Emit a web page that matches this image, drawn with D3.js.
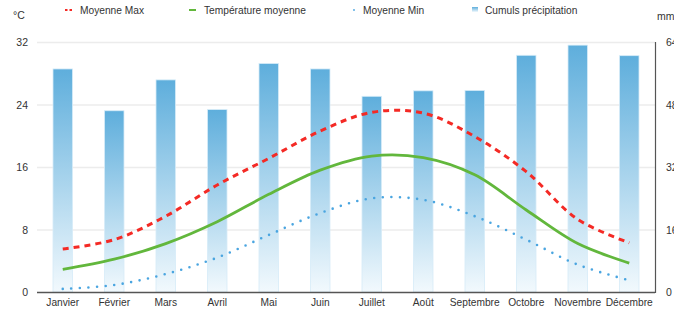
<!DOCTYPE html>
<html><head><meta charset="utf-8">
<script src="https://cdn.jsdelivr.net/npm/d3@7/dist/d3.min.js"></script>
<style>body{margin:0;background:#fff}svg{display:block;font-family:"Liberation Sans",Arial,Helvetica,sans-serif}</style>
</head><body><svg id="c" width="674" height="311"></svg>
<script>
const months = ["Janvier","Février","Mars","Avril","Mai","Juin","Juillet","Août","Septembre","Octobre","Novembre","Décembre"];
const precip = [57.1,46.4,54.3,46.7,58.5,57.1,50.1,51.5,51.6,60.6,63.2,60.5];
const tMax = [5.5,6.7,9.7,13.7,17.1,20.6,23.0,22.9,19.9,15.4,9.3,6.3];
const tMean = [2.9,4.2,6.2,9.0,12.5,15.6,17.4,17.2,15.0,10.5,6.2,3.7];
const tMin = [0.4,0.9,2.3,4.4,7.3,10.1,12.0,11.8,9.7,6.7,3.5,1.5];
const leftTicks = [0,8,16,24,32];
const rightTicks = [0,16,32,48,64];

const svg = d3.select("#c");
const L = 37, R = 655, T = 42, B = 292;
const x = d3.scaleBand().domain(months).range([L, R]);
const yT = d3.scaleLinear().domain([0,32]).range([B, T]);
const yP = d3.scaleLinear().domain([0,64]).range([B, T]);

const defs = svg.append("defs");
const g = defs.append("linearGradient").attr("id","bg").attr("x1",0).attr("y1",0).attr("x2",0).attr("y2",1);
g.append("stop").attr("offset","0%").attr("stop-color","#5eaedc");
g.append("stop").attr("offset","100%").attr("stop-color","#f2f9fd");

// grid
svg.append("g").selectAll("line").data(leftTicks.filter(d=>d>0)).join("line")
  .attr("x1",L).attr("x2",R).attr("y1",d=>yT(d)+0.5).attr("y2",d=>yT(d)+0.5)
  .attr("stroke","#ececec").attr("stroke-width",1.5);

// bars
const bw = 19.5;
svg.append("g").selectAll("rect").data(precip).join("rect")
  .attr("x",(d,i)=>x(months[i])+x.bandwidth()/2-bw/2)
  .attr("y",d=>yP(d)).attr("width",bw).attr("height",d=>B-yP(d))
  .attr("fill","url(#bg)").attr("stroke","#d6ecf8").attr("stroke-width",0.8);

// axes lines
svg.append("line").attr("x1",L).attr("x2",R).attr("y1",B+0.5).attr("y2",B+0.5).attr("stroke","#555").attr("stroke-width",1.5);
svg.append("line").attr("x1",R+0.5).attr("x2",R+0.5).attr("y1",T).attr("y2",B+1).attr("stroke","#555").attr("stroke-width",1.2);

const cx = (d,i)=>x(months[i])+x.bandwidth()/2;
const line = ys => d3.line().x(cx).y(d=>ys(d)).curve(d3.curveCatmullRom.alpha(0.5));

svg.append("path").datum(tMean).attr("d",line(yT)).attr("fill","none")
  .attr("stroke","#62b73c").attr("stroke-width",2.8);
svg.append("path").datum(tMax).attr("d",line(yT)).attr("fill","none")
  .attr("stroke","#f42a25").attr("stroke-width",3).attr("stroke-dasharray","6,5");
svg.append("path").datum(tMin).attr("d",line(yT)).attr("fill","none")
  .attr("stroke","#4aa5e0").attr("stroke-width",2.6).attr("stroke-linecap","round").attr("stroke-dasharray","0,8.6");

// tick labels
svg.append("g").selectAll("text").data(leftTicks).join("text")
  .attr("x",28).attr("y",d=>yT(d)+4).attr("text-anchor","end").attr("font-size",10.5).attr("fill","#333").text(d=>d);
svg.append("g").selectAll("text").data(rightTicks).join("text")
  .attr("x",666).attr("y",d=>yP(d)+4).attr("text-anchor","start").attr("font-size",10.5).attr("fill","#333").text(d=>d);
svg.append("g").selectAll("text").data(months).join("text")
  .attr("x",(d,i)=>cx(d,i)).attr("y",306).attr("text-anchor","middle").attr("font-size",10.2).attr("fill","#333").text(d=>d);
svg.append("text").attr("x",13).attr("y",19).attr("font-size",10.5).attr("fill","#333").text("°C");
svg.append("text").attr("x",657).attr("y",20).attr("font-size",10.5).attr("fill","#333").text("mm");

// legend
const lg = svg.append("g").attr("font-size",10.2).attr("fill","#333");
lg.append("line").attr("x1",65).attr("x2",74).attr("y1",10).attr("y2",10).attr("stroke","#f42a25").attr("stroke-width",2).attr("stroke-dasharray","2.5,2");
lg.append("text").attr("x",80).attr("y",14).text("Moyenne Max");
lg.append("line").attr("x1",189).attr("x2",196).attr("y1",10).attr("y2",10).attr("stroke","#62b73c").attr("stroke-width",2);
lg.append("text").attr("x",204).attr("y",14).text("Température moyenne");
lg.append("circle").attr("cx",354).attr("cy",10).attr("r",0.9).attr("fill","#4aa5e0");
lg.append("text").attr("x",363).attr("y",14).text("Moyenne Min");
lg.append("rect").attr("x",472).attr("y",7).attr("width",6).attr("height",5).attr("fill","url(#bg)");
lg.append("text").attr("x",485).attr("y",14).text("Cumuls précipitation");
</script></body></html>
